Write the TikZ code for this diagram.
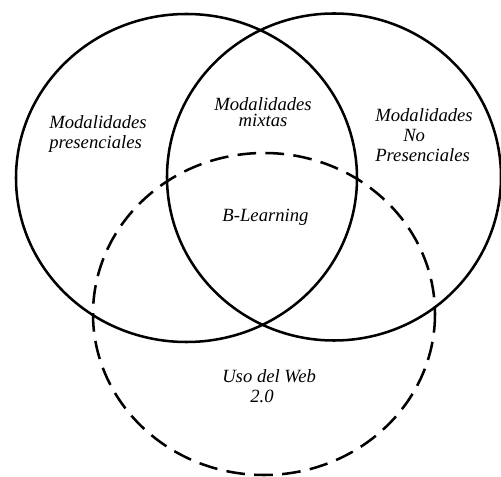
\documentclass[tikz,border=0pt]{standalone}
\usepackage{fontspec}
\setmainfont{Liberation Serif}
\usepackage{tikz}
\usetikzlibrary{positioning}

\begin{document}
\begin{tikzpicture}[x=0.75pt,y=0.75pt,yscale=-1,xscale=1]
    \useasboundingbox (0,0) rectangle (501,477);
    \tikzset{
        ring/.style={line width=1.9pt},
        webring/.style={line width=1.9pt, dash pattern={on 14pt off 7pt}},
        lbl/.style={inner sep=0pt, font=\fontsize{14}{15}\selectfont\itshape}
    }

    %Shape: Ellipse [presenciales]
    \draw [ring] (186.5,178) ellipse (170.5 and 164);
    %Shape: Ellipse [no presenciales]
    \draw [ring] (334,177) ellipse (167 and 163.5);
    %Shape: Ellipse [web 2.0]
    \draw [webring] (264,314) ellipse (171 and 161);

    % Text Node
    \node [lbl, anchor=west, align=left] (pres) at (49,134) {Modalidades\\presenciales};
    % Text Node
    \node [lbl, align=center, font=\fontsize{14}{12.5}\selectfont\itshape] (mixtas) at (263,112) {Modalidades\\mixtas};
    % Text Node
    \node [lbl, anchor=west, align=left] (nopres) at (375,135) {Modalidades\\\hspace*{21pt}No\\Presenciales};
    % Text Node
    \node [lbl] (blearn) at (265.5,217) {B-Learning};
    % Text Node
    \node [lbl, anchor=west, align=left] (web) at (222,386) {Uso del Web\\\hspace*{21pt}2.0};

\end{tikzpicture}
\end{document}
